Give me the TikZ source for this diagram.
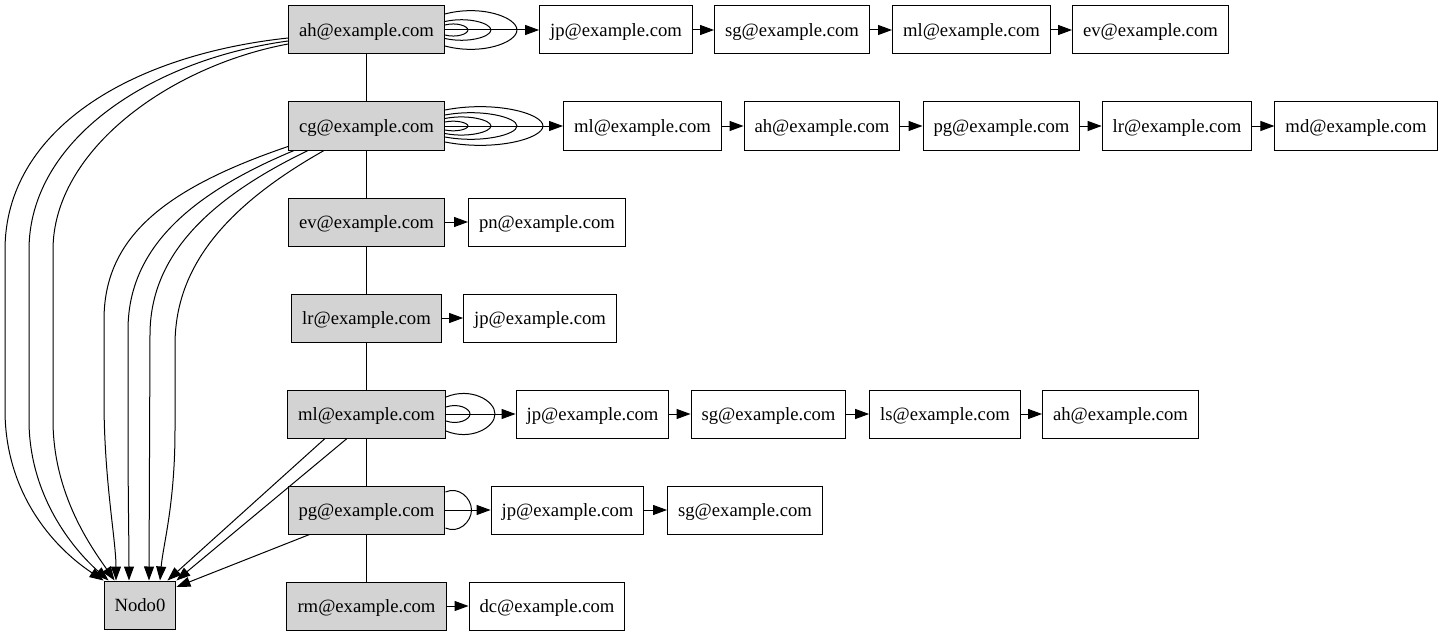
\documentclass[tikz,border=0pt]{standalone}
\usepackage{fontspec}
\setmainfont{Liberation Serif}
\usetikzlibrary{arrows.meta,calc}
\definecolor{boxgray}{HTML}{D3D3D3}
\tikzset{
  mailbox/.style={draw,line width=0.75pt,minimum height=36pt,inner xsep=7.9pt,inner ysep=0pt,
    text height=10.5pt,text depth=0.7pt},
  userbox/.style={mailbox,fill=boxgray}
}

\begin{document}
\begin{tikzpicture}[x=0.75pt,y=-0.75pt,line width=0.75pt,>={Triangle[length=10.5pt,width=7.5pt]},font=\fontsize{14pt}{17pt}\selectfont]
\useasboundingbox (0,0) rectangle (1442,635);

% user column
\foreach \n/\y in {ah/30,cg/126,ev/222,lr/318,ml/414,pg/510,rm/606}
  \node[userbox] (\n) at (366.5,\y) {\n@example.com};
\node[userbox] (nodo) at (140,605) {Nodo0};
\draw (ah) -- (cg) -- (ev) -- (lr) -- (ml) -- (pg) -- (rm);

% chains
\foreach \x/\t [count=\i] in {616/jp,792/sg,971.5/ml,1150.5/ev}
  \node[mailbox] (ah\i) at (\x,30) {\t@example.com};
\foreach \x/\t [count=\i] in {642.5/ml,822/ah,1001.5/pg,1177/lr,1356/md}
  \node[mailbox] (cg\i) at (\x,126) {\t@example.com};
\node[mailbox] (ev1) at (547,222) {pn@example.com};
\node[mailbox] (lr1) at (540,318) {jp@example.com};
\foreach \x/\t [count=\i] in {592.5/jp,768.5/sg,945/ls,1120.5/ah}
  \node[mailbox] (ml\i) at (\x,414) {\t@example.com};
\foreach \x/\t [count=\i] in {567.5/jp,745/sg}
  \node[mailbox] (pg\i) at (\x,510) {\t@example.com};
\node[mailbox] (rm1) at (547,606) {dc@example.com};

\draw[->] (ah) -- (ah1);
\foreach \i/\j in {1/2,2/3,3/4} \draw[->] (ah\i) -- (ah\j);
\draw[->] (cg) -- (cg1);
\foreach \i/\j in {1/2,2/3,3/4,4/5} \draw[->] (cg\i) -- (cg\j);
\draw[->] (ev) -- (ev1);
\draw[->] (lr) -- (lr1);
\draw[->] (ml) -- (ml1);
\foreach \i/\j in {1/2,2/3,3/4} \draw[->] (ml\i) -- (ml\j);
\draw[->] (pg) -- (pg1);
\draw[->] (pg1) -- (pg2);
\draw[->] (rm) -- (rm1);

% self loops
\foreach \h/\e in {5/23,8.5/46,16/72}
  \draw ($(ah.east)+(0,-\h)$) .. controls +(0.5*\e,-0.6*\h) and +(0,-0.8*\h) .. ++(\e,\h)
    .. controls +(0,0.8*\h) and +(0.5*\e,0.6*\h) .. ++(-\e,\h);
\foreach \h/\e in {4/23,7.5/46,11/72,16/98}
  \draw ($(cg.east)+(0,-\h)$) .. controls +(0.5*\e,-0.6*\h) and +(0,-0.8*\h) .. ++(\e,\h)
    .. controls +(0,0.8*\h) and +(0.5*\e,0.6*\h) .. ++(-\e,\h);
\foreach \h/\e in {7/24,17/49}
  \draw ($(ml.east)+(0,-\h)$) .. controls +(0.5*\e,-0.6*\h) and +(0,-0.8*\h) .. ++(\e,\h)
    .. controls +(0,0.8*\h) and +(0.5*\e,0.6*\h) .. ++(-\e,\h);
\draw ($(pg.east)+(0,-18)$) .. controls +(13,-6) and +(0,-12) .. ++(26,18)
  .. controls +(0,12) and +(13,6) .. ++(-26,18);

% edges into Nodo0
\draw[->] ($(ah.west)+(0,8)$) .. controls (130,55) and (5,130) .. (5,250) -- (5,410)
  .. controls (5,490) and (50,545) .. (nodo.north west);
\draw[->] ($(ah.west)+(0,11)$) .. controls (150,60) and (29,140) .. (29,250) -- (29,420)
  .. controls (29,495) and (72,548) .. ($(nodo.north west)+(5,0)$);
\draw[->] ($(ah.west)+(0,14)$) .. controls (170,66) and (53,150) .. (53,250) -- (53,420)
  .. controls (53,495) and (92,548) .. ($(nodo.north west)+(11,0)$);
\draw[->] ($(cg.south west)+(0,-4)$) .. controls (160,190) and (104,240) .. (104,320) -- (104,400)
  .. controls (104,480) and (116,540) .. ($(nodo.north)+(-24,0)$);
\draw[->] ($(cg.south west)+(6,0)$) .. controls (180,198) and (128,255) .. (128,330) -- (128,420)
  .. controls (128,500) and (129,540) .. ($(nodo.north)+(-11,0)$);
\draw[->] ($(cg.south west)+(20,0)$) .. controls (195,205) and (150,265) .. (150,335)
  -- ($(nodo.north)+(9,0)$);
\draw[->] ($(cg.south west)+(36,0)$) .. controls (215,212) and (175,275) .. (175,345) -- (175,430)
  .. controls (175,505) and (163,545) .. ($(nodo.north)+(20,0)$);
\draw[->] ($(ml.south)+(-41.5,0)$) -- ($(nodo.north east)+(-9,0)$);
\draw[->] ($(ml.south)+(-19.5,0)$) -- (nodo.north east);
\draw[->] ($(pg.south west)+(22,0)$) -- ($(nodo.east)+(0,-18)$);
\end{tikzpicture}
\end{document}
